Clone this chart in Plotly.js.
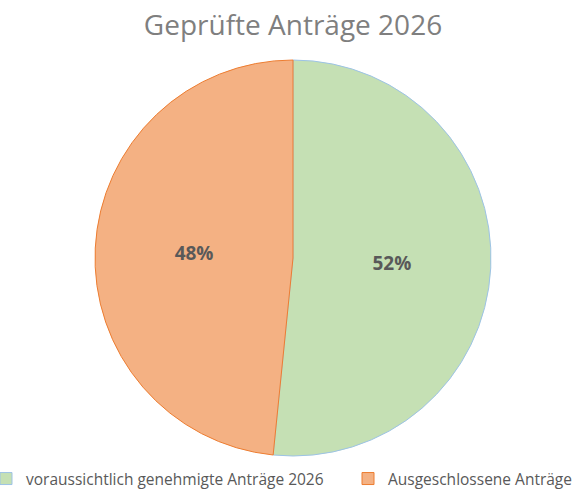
<!DOCTYPE html>
<html>
<head>
<meta charset="utf-8">
<script src="https://cdn.plot.ly/plotly-3.0.1.min.js"></script>
<style>html,body{margin:0;padding:0;background:#fff;overflow:hidden;width:578px;height:493px;}#chart{width:820px;height:493px;margin-left:-14px;}</style>
</head>
<body>
<div id="chart"></div>
<script>
var chartTitle = "Geprüfte Anträge 2026";
var categories = ["voraussichtlich genehmigte Anträge 2026", "Ausgeschlossene Anträge"];
var shares = [51.6, 48.4];
var fillColors = ["#C5E0B4", "#F4B183"];
var lineColors = ["#9DC3E6", "#ED7D31"];

var W = 820, H = 493;
var trace = {
  type: "pie",
  labels: categories,
  values: shares,
  sort: false,
  direction: "clockwise",
  rotation: 0,
  marker: {colors: fillColors, line: {color: lineColors, width: 1}},
  textinfo: "percent",
  texttemplate: "%{percent:.0%}",
  textposition: "inside",
  insidetextorientation: "horizontal",
  textfont: {family: "Open Sans, sans-serif", size: 19, color: "#595959", weight: "bold"},
  hoverinfo: "none",
  domain: {x: [109/W, 505/W], y: [37/H, 433/H]}
};

var layout = {
  width: W, height: H,
  margin: {l: 0, r: 0, t: 0, b: 0, autoexpand: false},
  paper_bgcolor: "#fff",
  title: {text: chartTitle, font: {family: "Open Sans, sans-serif", size: 28, color: "#7F7F7F"}, x: 307/W, xanchor: "center", y: 1 - 25/H, yanchor: "middle"},
  showlegend: true,
  legend: {orientation: "h", x: 0, xanchor: "left", y: -0.006, yanchor: "bottom", bgcolor: "rgba(0,0,0,0)", font: {family: "Open Sans, sans-serif", size: 15.5, color: "#595959"}, entrywidth: 317, entrywidthmode: "pixels", traceorder: "normal"}
};

Plotly.newPlot("chart", [trace], layout, {displayModeBar: false, staticPlot: true});
</script>
</body>
</html>
